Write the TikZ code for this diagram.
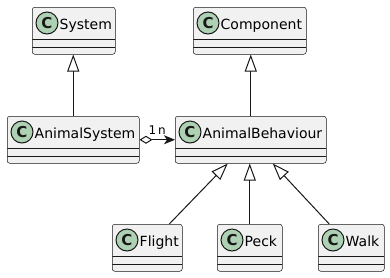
\documentclass[tikz,border=0pt]{standalone}
\usepackage{fontspec}
\setmainfont{DejaVu Sans}
\usetikzlibrary{arrows.meta, positioning}
\definecolor{classfill}{HTML}{F1F1F1}
\definecolor{classborder}{HTML}{181818}
\definecolor{iconfill}{HTML}{ADD1B2}
\definecolor{linkgray}{HTML}{181818}
\tikzset{
    classbox/.style={
        rectangle, rounded corners=2.5pt, draw=classborder, fill=classfill,
        minimum height=47pt, inner sep=0pt, line width=0.5pt, anchor=north west,
        path picture={
            \draw[classborder, line width=0.5pt]
                ([yshift=-32pt]path picture bounding box.north west) -- ([yshift=-32pt]path picture bounding box.north east)
                ([yshift=-40pt]path picture bounding box.north west) -- ([yshift=-40pt]path picture bounding box.north east);
        }
    },
    classicon/.style={
        circle, draw=classborder, fill=iconfill, line width=1pt,
        minimum size=22pt, inner sep=0pt,
        font=\fontsize{15}{15}\selectfont\bfseries, text=classborder
    },
    classname/.style={
        inner sep=0pt, text height=12pt, text depth=0pt,
        font=\fontsize{14}{16}\selectfont, text=black
    },
    linklabel/.style={
        inner sep=0pt, anchor=base, font=\fontsize{12}{14}\selectfont
    },
    extends/.style={
        -{Triangle[open, length=17pt, width=12pt]}, line width=1pt, draw=linkgray
    },
    aggregates/.style={
        {Diamond[open, length=13pt, width=8pt]}-{Stealth[length=11pt, width=9pt, inset=3pt]},
        line width=1pt, draw=linkgray
    },
}
\begin{document}
\begin{tikzpicture}[x=1pt, y=-1pt]
    \useasboundingbox[fill=white] (0,0) rectangle (390,277);

    % Top row: base classes
    \node[classbox, minimum width=83pt] (system) at (32,7) {};
    \node[classicon] (system-icon) at ([xshift=15pt, yshift=-16pt]system.north west) {C};
    \node[classname, right=1pt of system-icon] (system-name) {System};

    \node[classbox, minimum width=113pt] (component) at (193,7) {};
    \node[classicon] (component-icon) at ([xshift=15pt, yshift=-16pt]component.north west) {C};
    \node[classname, right=1pt of component-icon] (component-name) {Component};

    % Middle row
    \node[classbox, minimum width=132pt] (animalsystem) at (7,116) {};
    \node[classicon] (animalsystem-icon) at ([xshift=15pt, yshift=-16pt]animalsystem.north west) {C};
    \node[classname, right=1pt of animalsystem-icon] (animalsystem-name) {AnimalSystem};

    \node[classbox, minimum width=151pt] (animalbehaviour) at (175,116) {};
    \node[classicon] (animalbehaviour-icon) at ([xshift=15pt, yshift=-16pt]animalbehaviour.north west) {C};
    \node[classname, right=1pt of animalbehaviour-icon] (animalbehaviour-name) {AnimalBehaviour};

    % Bottom row: behaviours
    \node[classbox, minimum width=70pt] (flight) at (112,224) {};
    \node[classicon] (flight-icon) at ([xshift=15pt, yshift=-16pt]flight.north west) {C};
    \node[classname, right=1pt of flight-icon] (flight-name) {Flight};

    \node[classbox, minimum width=65pt] (peck) at (217,224) {};
    \node[classicon] (peck-icon) at ([xshift=15pt, yshift=-16pt]peck.north west) {C};
    \node[classname, right=1pt of peck-icon] (peck-name) {Peck};

    \node[classbox, minimum width=66pt] (walk) at (318,224) {};
    \node[classicon] (walk-icon) at ([xshift=15pt, yshift=-16pt]walk.north west) {C};
    \node[classname, right=1pt of walk-icon] (walk-name) {Walk};

    % Inheritance
    \draw[extends] (animalsystem.north) -- (animalsystem.north |- system.south);
    \draw[extends] (animalbehaviour.north) -- (animalbehaviour.north |- component.south);
    \draw[extends] ([xshift=22pt]flight.north) -- ([xshift=-23pt]animalbehaviour.south);
    \draw[extends] (peck.north) -- (peck.north |- animalbehaviour.south);
    \draw[extends] ([xshift=-22pt]walk.north) -- ([xshift=22pt]animalbehaviour.south);

    % Aggregation
    \draw[aggregates] (animalsystem.east) -- (animalbehaviour.west);
    \node[linklabel] (mult-one) at ([xshift=13pt, yshift=5.5pt]animalsystem.east) {1};
    \node[linklabel] (mult-n) at ([xshift=-13pt, yshift=5.5pt]animalbehaviour.west) {n};

\end{tikzpicture}
\end{document}
